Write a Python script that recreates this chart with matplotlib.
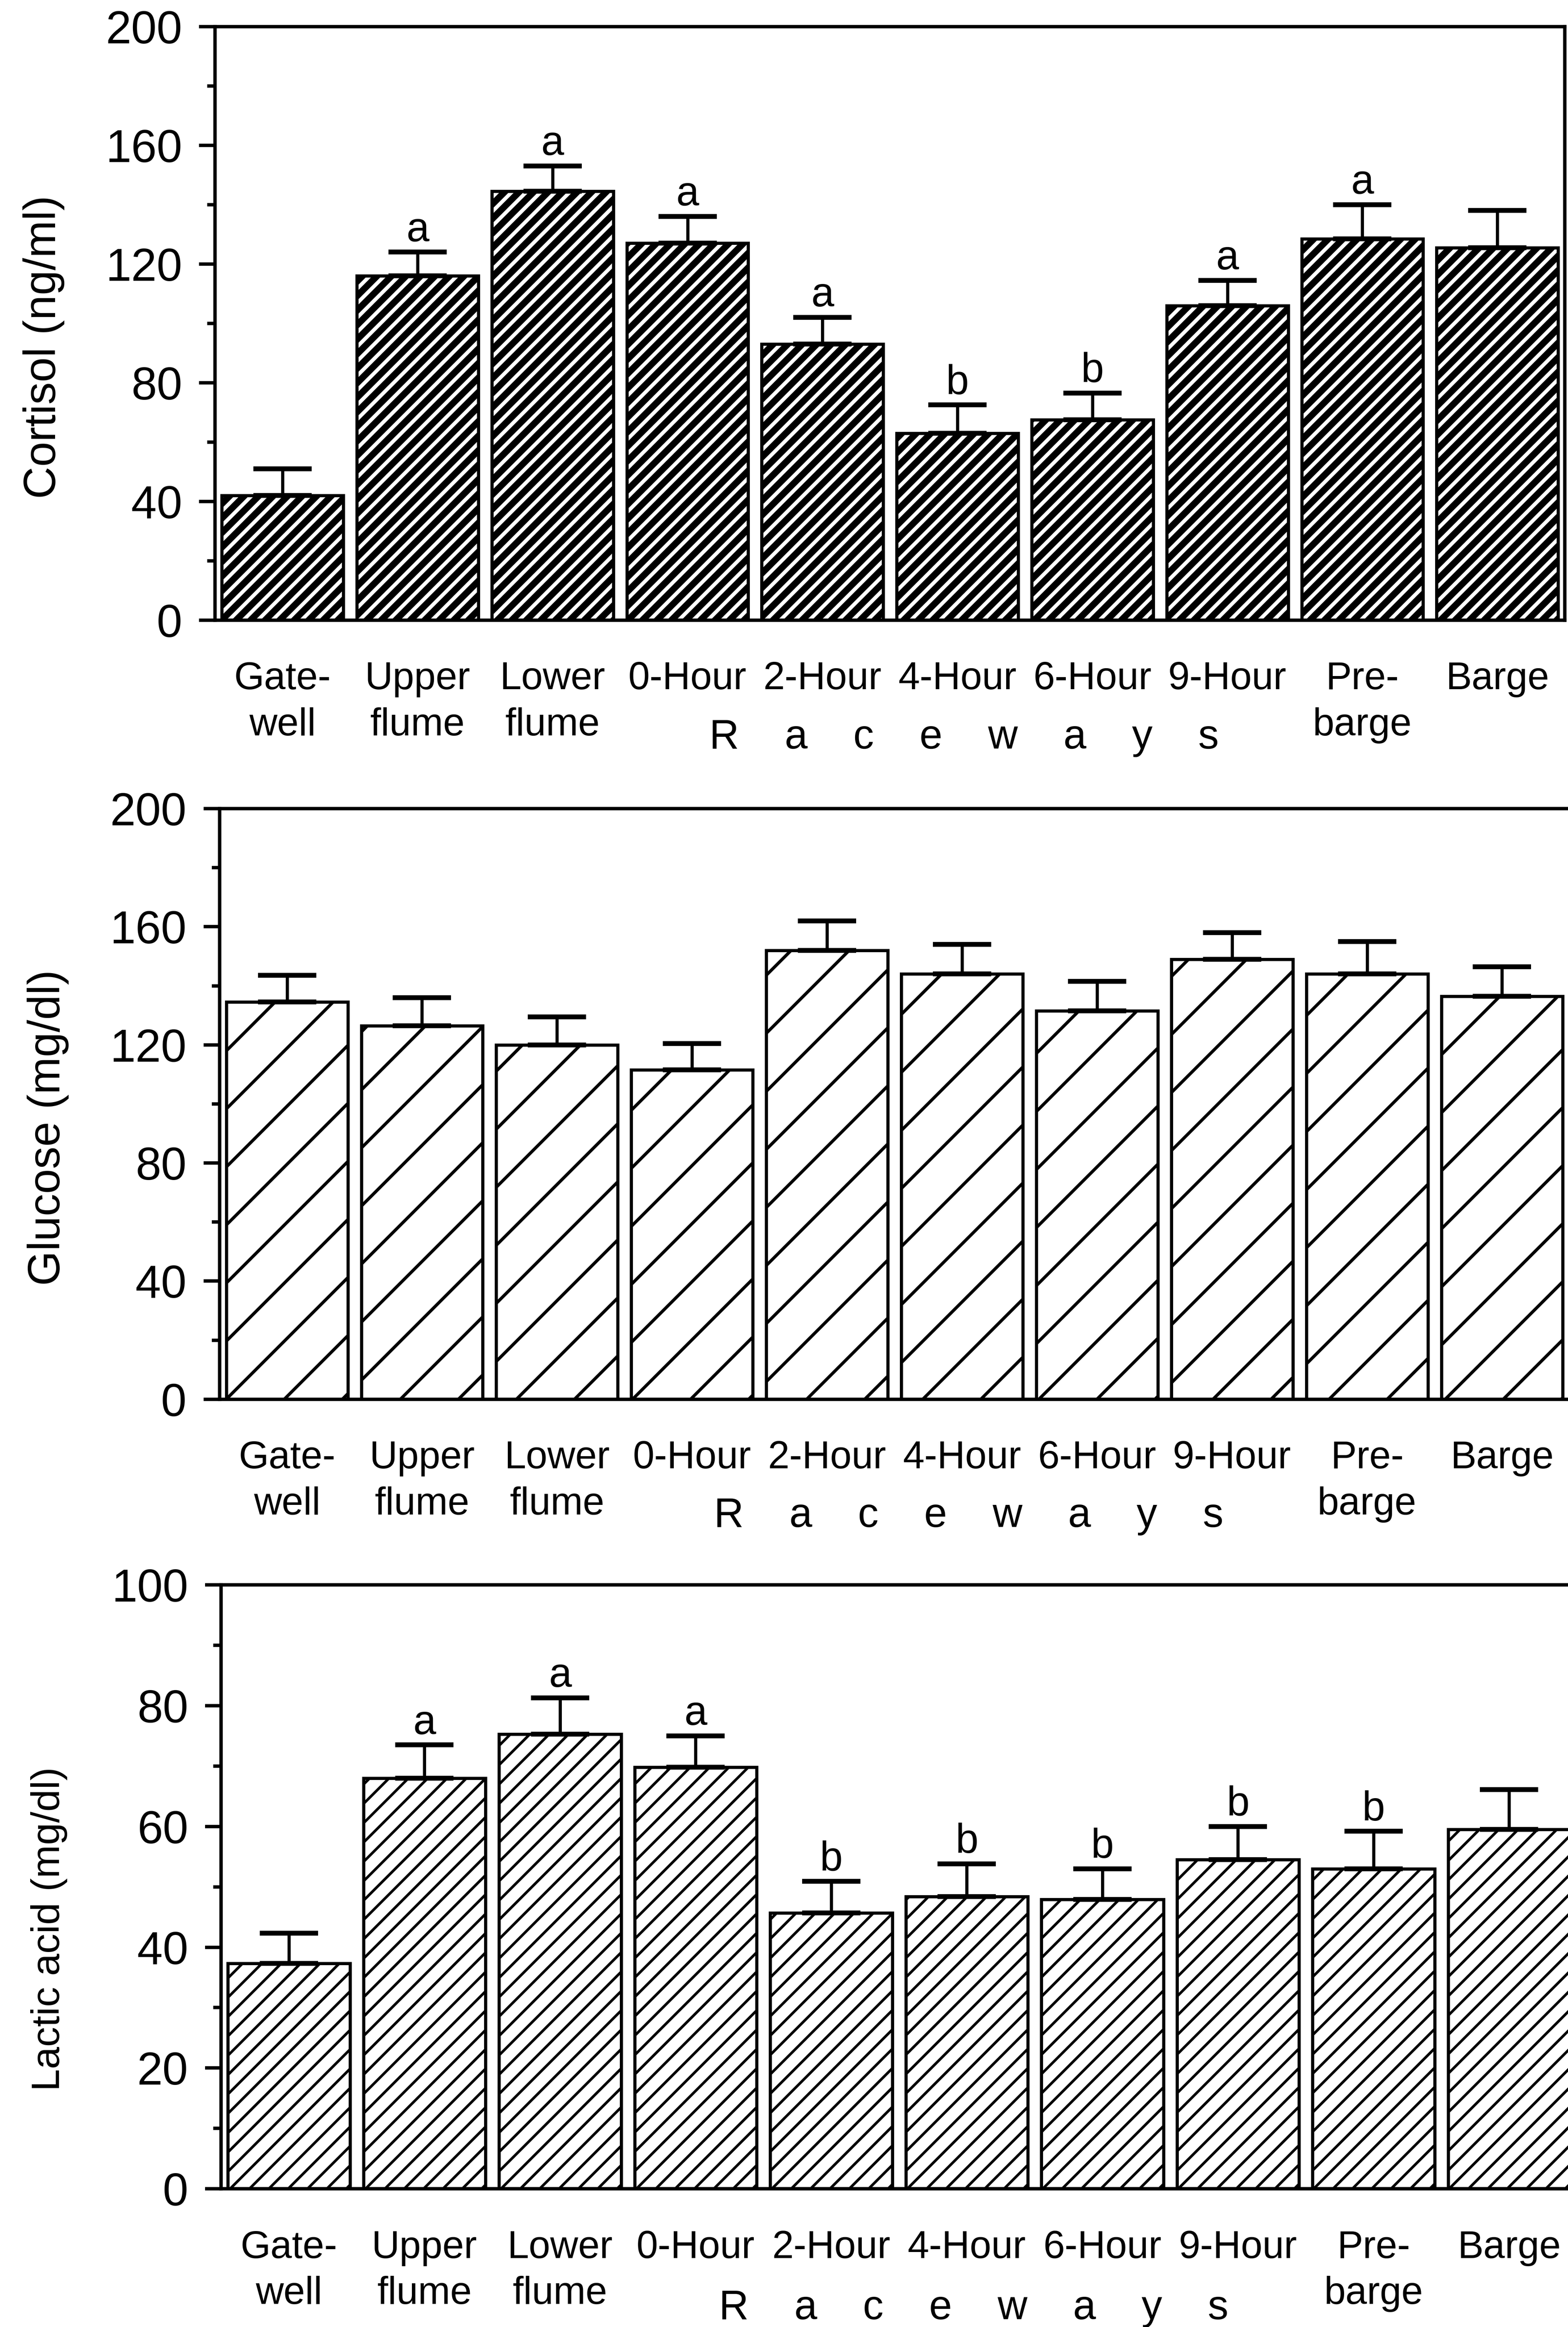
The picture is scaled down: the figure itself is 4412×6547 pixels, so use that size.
import matplotlib
matplotlib.use("Agg")
import matplotlib.pyplot as plt
from matplotlib.ticker import MultipleLocator

# Sampling sites along the bypass / transport route
categories = ["Gate-\nwell", "Upper\nflume", "Lower\nflume", "0-Hour", "2-Hour",
              "4-Hour", "6-Hour", "9-Hour", "Pre-\nbarge", "Barge"]

# Plasma cortisol (ng/ml), mean and SE
cortisol_mean = [42, 116, 144.5, 127, 93, 63, 67.5, 106, 128.5, 125.5]
cortisol_se = [9, 8, 8.5, 9, 9, 9.5, 9, 8.5, 11.5, 12.5]
cortisol_letters = ["", "a", "a", "a", "a", "b", "b", "a", "a", ""]

# Plasma glucose (mg/dl)
glucose_mean = [134.5, 126.5, 120, 111.5, 152, 144, 131.5, 149, 144, 136.5]
glucose_se = [9, 9.5, 9.5, 9, 10, 10, 10, 9, 11, 10]
glucose_letters = [""] * 10

# Plasma lactic acid (mg/dl)
lactic_mean = [37.3, 68, 75.3, 69.8, 45.7, 48.4, 47.9, 54.5, 53, 59.5]
lactic_se = [5, 5.5, 6, 5.2, 5.2, 5.4, 5.1, 5.5, 6.2, 6.6]
lactic_letters = ["", "a", "a", "a", "b", "b", "b", "b", "b", ""]

DPI = 490
plt.rcParams["font.family"] = ["Liberation Sans", "DejaVu Sans"]


def draw_panel(ax, means, errs, letters, hatch, hatch_lw, ylabel, ylabel_size,
               ymax, major, minor, label_y):
    n = len(categories)
    x = list(range(n))
    with plt.rc_context({"hatch.linewidth": hatch_lw}):
        bars = ax.bar(x, means, width=0.9, color="white", edgecolor="black",
                      linewidth=1.3, hatch=hatch, zorder=2)
    for b in bars:
        if hasattr(b, "set_hatch_linewidth"):
            b.set_hatch_linewidth(hatch_lw)
    ax.errorbar(x, means, yerr=[[0] * n, errs], fmt="none", ecolor="black",
                elinewidth=1.3, capsize=12, capthick=2.0, zorder=3)
    for xi, m, e, lab in zip(x, means, errs, letters):
        if lab:
            ax.annotate(lab, (xi, m + e), xytext=(0, 4.5),
                        textcoords="offset points", ha="center",
                        va="baseline", fontsize=17)

    ax.set_xlim(-0.5, n - 0.5)
    ax.set_ylim(0, ymax)
    ax.yaxis.set_major_locator(MultipleLocator(major))
    ax.yaxis.set_minor_locator(MultipleLocator(minor))
    ax.tick_params(axis="y", which="major", length=6.6, width=1.4,
                   labelsize=19, pad=7, direction="out")
    ax.tick_params(axis="y", which="minor", length=3.3, width=1.4,
                   direction="out")
    ax.set_xticks(x)
    ax.set_xticklabels(categories, va="top", ha="center", linespacing=1.35)
    ax.tick_params(axis="x", length=0, labelsize=16, pad=17)
    for s in ax.spines.values():
        s.set_linewidth(1.4)

    ax.set_ylabel(ylabel, fontsize=ylabel_size, va="center")
    ax.yaxis.set_label_coords(-0.127, label_y)

    ax.text(5.05, -0.216, "R    a    c    e    w    a    y    s",
            transform=ax.get_xaxis_transform(), ha="center",
            va="baseline", fontsize=17)


fig = plt.figure(figsize=(4412 / DPI, 6547 / DPI), dpi=DPI)
ax1 = fig.add_axes([0.1372, 0.7335, 0.8608, 0.2551])
ax2 = fig.add_axes([0.1400, 0.3987, 0.8610, 0.2538])
ax3 = fig.add_axes([0.1410, 0.0594, 0.8647, 0.2595])

draw_panel(ax1, cortisol_mean, cortisol_se, cortisol_letters, "////", 2.7,
           "Cortisol (ng/ml)", 18.5, 200, 40, 20, 0.46)
draw_panel(ax2, glucose_mean, glucose_se, glucose_letters, "/", 1.3,
           "Glucose (mg/dl)", 18.5, 200, 40, 20, 0.46)
draw_panel(ax3, lactic_mean, lactic_se, lactic_letters, "///", 1.1,
           "Lactic acid (mg/dl)", 16.5, 100, 20, 10, 0.43)

fig.savefig("out.png", dpi=DPI)
